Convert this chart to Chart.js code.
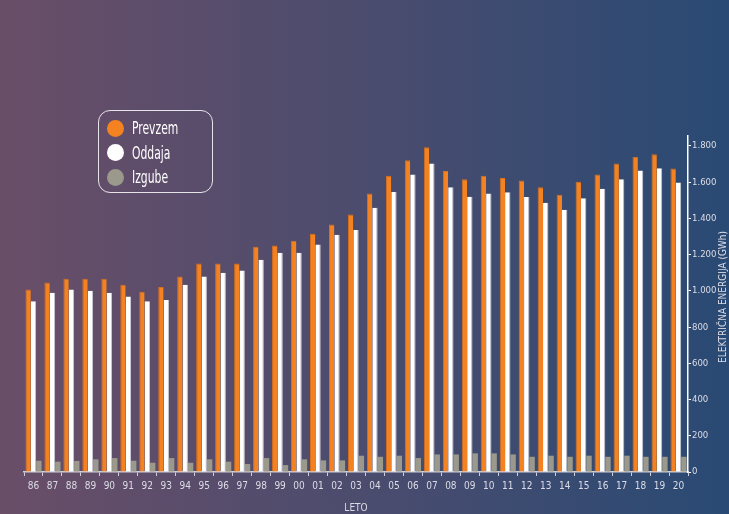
<!DOCTYPE html>
<html>
<head>
<meta charset="utf-8">
<script src="https://cdn.jsdelivr.net/npm/chart.js@4.4.1/dist/chart.umd.min.js"></script>
<style>
    html, body { margin: 0; padding: 0; }
    #wrap {
        position: relative;
        width: 729px;
        height: 514px;
        background: linear-gradient(90deg, #6a4e68 0%, #4b4c6e 50%, #294a74 100%);
        font-family: 'Liberation Sans Narrow', 'DejaVu Sans Condensed', sans-serif;
    }
    #legend {
        position: absolute;
        left: 98px;
        top: 110px;
        width: 115px;
        height: 83px;
        border: 1.3px solid rgba(255, 255, 255, 0.85);
        border-radius: 12px;
        box-sizing: border-box;
        padding-top: 5px;
    }
    .item { display: flex; align-items: center; height: 24.5px; padding-left: 8px; }
    .dot { width: 17px; height: 17px; border-radius: 50%; margin-right: 8px; flex: none; }
    .lbl { color: #fff; font-size: 15px; display: inline-block; transform: scale(0.8, 1.15); transform-origin: left center; }
</style>
</head>
<body>
<div id="wrap">
    <canvas id="chart" width="729" height="514"></canvas>
    <div id="legend"></div>
</div>
<script>
// podatki
const years = ['86', '87', '88', '89', '90', '91', '92', '93', '94', '95', '96', '97',
    '98', '99', '00', '01', '02', '03', '04', '05', '06', '07', '08', '09',
    '10', '11', '12', '13', '14', '15', '16', '17', '18', '19', '20'];
const prevzem = [1008, 1046, 1067, 1067, 1067, 1034, 995, 1021, 1080, 1151, 1151, 1151,
    1244, 1251, 1277, 1315, 1367, 1421, 1538, 1636, 1721, 1793, 1662, 1616,
    1636, 1623, 1610, 1572, 1531, 1603, 1643, 1703, 1741, 1754, 1675];
const oddaja = [943, 989, 1008, 1000, 989, 969, 943, 949, 1034, 1080, 1100, 1113,
    1172, 1210, 1210, 1256, 1310, 1336, 1459, 1546, 1643, 1703, 1572, 1520,
    1538, 1544, 1518, 1487, 1448, 1512, 1564, 1616, 1664, 1677, 1598];
const izgube = [62, 57, 61, 70, 77, 62, 51, 77, 51, 70, 57, 44,
    77, 38, 70, 64, 64, 90, 84, 90, 77, 97, 97, 103,
    103, 97, 84, 90, 84, 90, 84, 90, 84, 84, 84];
const yTicks = [0, 200, 400, 600, 800, 1000, 1200, 1400, 1600, 1800];

const FONT = "'Liberation Sans Narrow', 'DejaVu Sans Condensed', sans-serif";
const TXT = '#dcdce6';

// naslov y osi (bere se od spodaj navzgor)
const yTitle = {
    id: 'yTitle',
    afterDraw(chart) {
        const ctx = chart.ctx;
        const area = chart.chartArea;
        ctx.save();
        ctx.translate(723, (area.top + area.bottom) / 2 - 7);
        ctx.rotate(-Math.PI / 2);
        ctx.fillStyle = TXT;
        ctx.font = '10px ' + FONT;
        ctx.textAlign = 'center';
        ctx.textBaseline = 'middle';
        ctx.fillText('ELEKTRIČNA ENERGIJA (GWh)', 0, 0);
        ctx.restore();
    }
};

const datasets = [
    { label: 'Prevzem', data: prevzem, backgroundColor: '#f58220', borderColor: '#d8701c', borderWidth: { top: 1, left: 1 } },
    { label: 'Oddaja', data: oddaja, backgroundColor: '#ffffff', borderColor: '#c8c8d0', borderWidth: { right: 1 } },
    { label: 'Izgube', data: izgube, backgroundColor: '#9a998b', borderColor: '#9a998b', borderWidth: 0 }
];

new Chart(document.getElementById('chart'), {
    type: 'bar',
    data: { labels: years, datasets: datasets },
    options: {
        responsive: false,
        animation: false,
        layout: { padding: { top: 136, left: 24, right: 0, bottom: 0 } },
        datasets: { bar: { categoryPercentage: 0.85, barPercentage: 1.0 } },
        plugins: { legend: { display: false }, tooltip: { enabled: false } },
        scales: {
            x: {
                afterFit: s => { s.height = 42; },
                grid: { display: true, drawOnChartArea: false, offset: true, tickLength: 4, color: '#d0d0d8' },
                border: { display: true, color: '#d0d0d8', width: 1.5 },
                ticks: { color: TXT, font: { family: FONT, size: 10 }, autoSkip: false, maxRotation: 0, padding: 4 },
                title: { display: true, text: 'LETO', color: TXT, font: { family: FONT, size: 10 }, padding: 0 }
            },
            y: {
                position: 'right',
                min: 0,
                max: 1855,
                afterFit: s => { s.width = 41; },
                afterBuildTicks: s => { s.ticks = yTicks.map(v => ({ value: v })); },
                grid: { display: true, drawOnChartArea: false, tickLength: 3, color: '#ffffff' },
                border: { display: true, color: '#ffffff', width: 1.5 },
                ticks: {
                    color: TXT,
                    font: { family: FONT, size: 9.5 },
                    padding: 1,
                    callback: v => String(v).replace(/\B(?=(\d{3})+(?!\d))/g, '.')
                }
            }
        }
    },
    plugins: [yTitle]
});

// legenda
const legend = document.getElementById('legend');
datasets.forEach(ds => {
    const item = document.createElement('div');
    item.className = 'item';
    item.innerHTML = '<span class="dot" style="background:' + ds.backgroundColor + '"></span><span class="lbl">' + ds.label + '</span>';
    legend.appendChild(item);
});
</script>
</body>
</html>
